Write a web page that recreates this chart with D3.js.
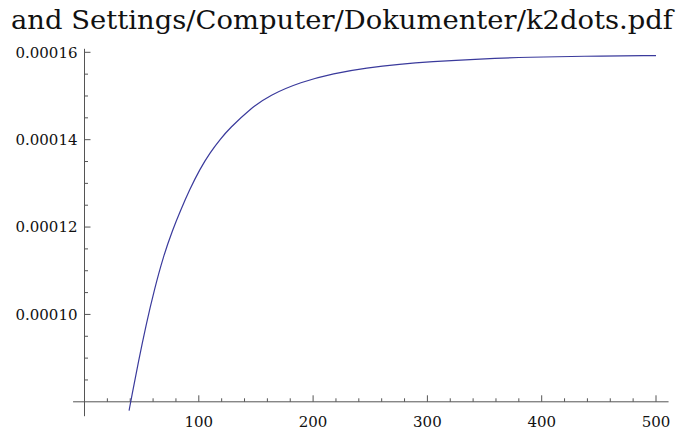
<!DOCTYPE html>
<html>
<head>
<meta charset="utf-8">
<script src="https://cdn.jsdelivr.net/npm/d3@7"></script>
<style>
body { margin: 0; background: #fff; }
</style>
</head>
<body>
<svg id="chart" width="680" height="433"></svg>
<script>
"use strict";

// values (y in units of 1e-5)
var xs = [39, 41, 47, 54, 61, 69, 77, 84, 92, 101, 110, 119, 127, 145, 162, 189, 218, 247, 276, 302, 346, 390, 434, 500];
var ys = [7.80, 8.08, 8.90, 9.78, 10.56, 11.33, 11.93, 12.38, 12.86, 13.33, 13.71, 14.02, 14.26, 14.71, 15.02, 15.32, 15.52, 15.645, 15.73, 15.785, 15.85, 15.89, 15.91, 15.925];
var xTicks = [100, 200, 300, 400, 500];
var yTicks = [0.00010, 0.00012, 0.00014, 0.00016];
var title = "and Settings/Computer/Dokumenter/k2dots.pdf";

var FONT = "'DejaVu Serif', 'Liberation Serif', serif";

var svg = d3.select("#chart");

var x = d3.scaleLinear().domain([0, 500]).range([84.5, 656]);
var y = d3.scaleLinear().domain([0.00008, 0.00016]).range([401.8, 52.3]);

var axisColor = "#555";

// title (cut off in the source)
svg.append("text")
   .attr("x", 11)
   .attr("y", 29)
   .attr("font-family", FONT)
   .attr("font-size", 26)
   .attr("textLength", 662)
   .attr("lengthAdjust", "spacingAndGlyphs")
   .attr("fill", "#111")
   .text(title);

// x axis (crosses y at 0.00008)
var gx = svg.append("g");
gx.append("line")
  .attr("x1", x(-10)).attr("x2", x(511))
  .attr("y1", y(0.00008)).attr("y2", y(0.00008))
  .attr("stroke", axisColor).attr("stroke-width", 1);

var xMinor = d3.range(20, 501, 20).filter(v => v % 100 != 0);
gx.selectAll("line.minor")
  .data(xMinor).enter().append("line")
  .attr("class", "minor")
  .attr("x1", d=>x(d)).attr("x2", d=>x(d))
  .attr("y1", y(0.00008)).attr("y2", y(0.00008) - 3.5)
  .attr("stroke", axisColor);
gx.selectAll("line.major")
  .data(xTicks).enter().append("line")
  .attr("class", "major")
  .attr("x1", d=>x(d)).attr("x2", d=>x(d))
  .attr("y1", y(0.00008)).attr("y2", y(0.00008) - 6.5)
  .attr("stroke", axisColor);
gx.selectAll("text")
  .data(xTicks).enter().append("text")
  .attr("x", d=>x(d))
  .attr("y", 426.5)
  .attr("text-anchor", "middle")
  .attr("font-family", FONT)
  .attr("font-size", 15)
  .attr("fill", "#111")
  .text(d=>d);

// y axis at x = 0
var gy = svg.append("g");
gy.append("line")
  .attr("x1", x(0)).attr("x2", x(0))
  .attr("y1", y(0.0000767)).attr("y2", y(0.0001608))
  .attr("stroke", axisColor).attr("stroke-width", 1);

var yMinor = d3.range(0.0000850, 0.00016, 0.000005).filter(v => Math.round(v * 1e6) % 20 != 0);
gy.selectAll("line.minor")
  .data(yMinor).enter().append("line")
  .attr("class", "minor")
  .attr("x1", x(0)).attr("x2", x(0) + 3.5)
  .attr("y1", d=>y(d)).attr("y2", d=>y(d))
  .attr("stroke", axisColor);
gy.selectAll("line.major")
  .data(yTicks).enter().append("line")
  .attr("class", "major")
  .attr("x1", x(0)).attr("x2", x(0) + 6)
  .attr("y1", d=>y(d)).attr("y2", d=>y(d))
  .attr("stroke", axisColor);
gy.selectAll("text")
  .data(yTicks).enter().append("text")
  .attr("x", x(0) - 7)
  .attr("y", d=>y(d))
  .attr("dy", "0.36em")
  .attr("text-anchor", "end")
  .attr("font-family", FONT)
  .attr("font-size", 15)
  .attr("fill", "#111")
  .text(d=>d.toFixed(5));

// curve
var pts = xs.map((v, i) => [v, ys[i] * 1e-5]);
var line = d3.line()
  .x(d=>x(d[0]))
  .y(d=>y(d[1]))
  .curve(d3.curveBasis);

svg.append("path")
   .datum(pts)
   .attr("d", line)
   .attr("fill", "none")
   .attr("stroke", "#3a3a9c")
   .attr("stroke-width", 1.2);
</script>
</body>
</html>
